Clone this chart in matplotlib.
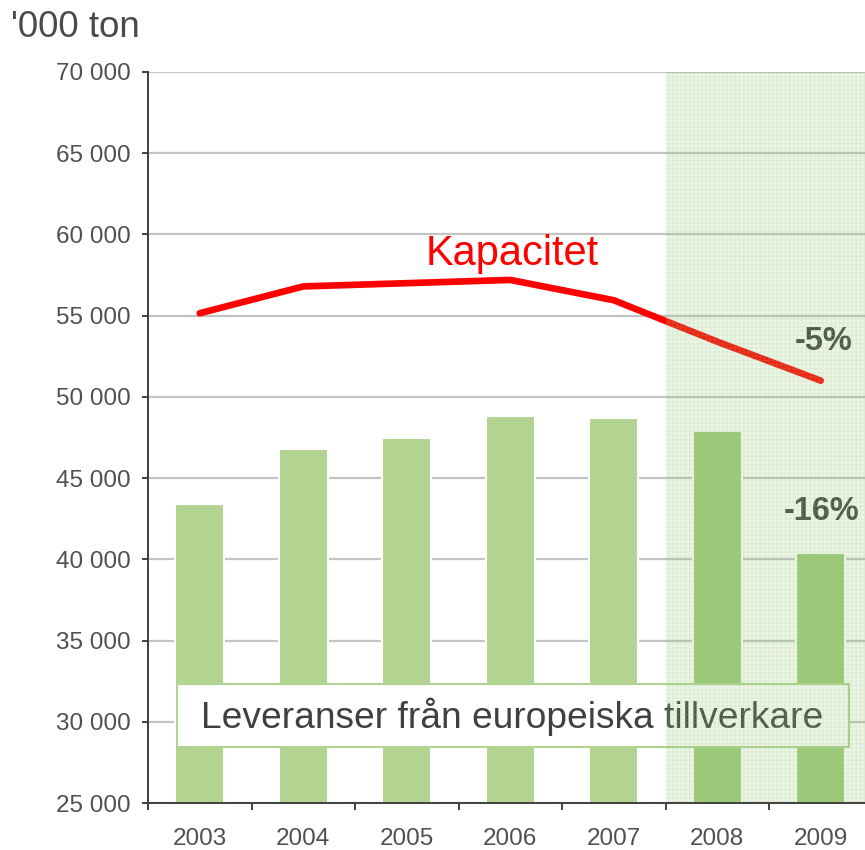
import matplotlib

matplotlib.use("Agg")
import matplotlib.pyplot as plt
from matplotlib.patches import Rectangle
from matplotlib.ticker import FuncFormatter, MultipleLocator

plt.rcParams["font.family"] = ["Liberation Sans", "DejaVu Sans"]

# data ('000 ton)
years = ["2003", "2004", "2005", "2006", "2007", "2008", "2009"]
leveranser = [43400, 46800, 47450, 48800, 48700, 47900, 40400]
kapacitet = [55150, 56800, 57000, 57200, 55950, 53400, 51000]
forecast_from = 5  # 2008 and 2009 are shaded
change_labels = ["-5%", "-16%"]

BAR = "#b2d490"
BAR_DARK = "#9fcb78"
GRID = "#c4c4c4"
AXIS = "#404040"
TEXT = "#505050"

fig = plt.figure(figsize=(8.65, 8.5), dpi=100)
ax = fig.add_axes([148 / 865, 1 - 803 / 850, 724.5 / 865, 731 / 850])

x = list(range(len(years)))
colors = [BAR if i < forecast_from else BAR_DARK for i in x]
ax.bar(x, leveranser, width=0.47, color=colors, edgecolor="white",
       linewidth=1.5, zorder=2)
ax.plot(x, kapacitet, color="#ff0000", linewidth=4.8, solid_capstyle="round",
        zorder=4)

ax.set_xlim(-0.5, len(years) - 0.5)
ax.set_ylim(25000, 70000)

# y axis
ax.yaxis.set_major_locator(MultipleLocator(5000))
ax.yaxis.set_major_formatter(FuncFormatter(lambda v, p: f"{v:,.0f}".replace(",", " ")))
ax.grid(axis="y", color=GRID, linewidth=1.6, zorder=1)
ax.set_axisbelow(True)

# x axis: ticks between categories, labels in the middle
ax.set_xticks([i - 0.5 for i in x])
ax.set_xticklabels([])
ax.set_xticks(x, minor=True)
ax.set_xticklabels(years, minor=True)
ax.tick_params(axis="x", which="major", length=5, width=1.4, color=AXIS, direction="out")
ax.tick_params(axis="x", which="minor", length=0, pad=18, labelsize=17.5, labelcolor=TEXT)
ax.tick_params(axis="y", length=4.5, width=1.4, color=AXIS, direction="out",
               pad=8, labelsize=17.5, labelcolor=TEXT)

for side in ["top", "right"]:
    ax.spines[side].set_visible(False)
for side in ["left", "bottom"]:
    ax.spines[side].set_color(AXIS)
    ax.spines[side].set_linewidth(1.4)
    ax.spines[side].set_zorder(6)

# label box for the bars
box = Rectangle((-0.22, 28430), 6.49, 3900, facecolor="white", edgecolor=BAR,
                linewidth=1.5, zorder=3)
ax.add_patch(box)
ax.text(3.02, 30300, "Leveranser från europeiska tillverkare", ha="center",
        va="center", fontsize=26.7, color="#404040", zorder=3.5)

ax.text(3.02, 58130, "Kapacitet", ha="center", va="baseline", fontsize=30,
        color="#ff0000", zorder=4)

ax.text(6.03, 53390, change_labels[0], ha="center", va="center", fontsize=23.5,
        fontweight="bold", color="#404040", zorder=4)
ax.text(6.01, 42940, change_labels[1], ha="center", va="center", fontsize=23.5,
        fontweight="bold", color="#404040", zorder=4)

# shaded forecast area with a fine texture
ax.axvspan(forecast_from - 0.5, len(years) - 0.5, facecolor=(0.59, 0.78, 0.47, 0.16),
           edgecolor="none", zorder=5)
ax.axvspan(forecast_from - 0.5, len(years) - 0.5, facecolor="none",
           edgecolor=(0.6, 0.78, 0.5, 0.18), hatch="++++", linewidth=0, zorder=5)

fig.text(11 / 865, 1 - 37 / 850, "'000 ton", ha="left", va="baseline",
         fontsize=26.5, color="#4a4a4a")

fig.savefig("out.png", dpi=100)
